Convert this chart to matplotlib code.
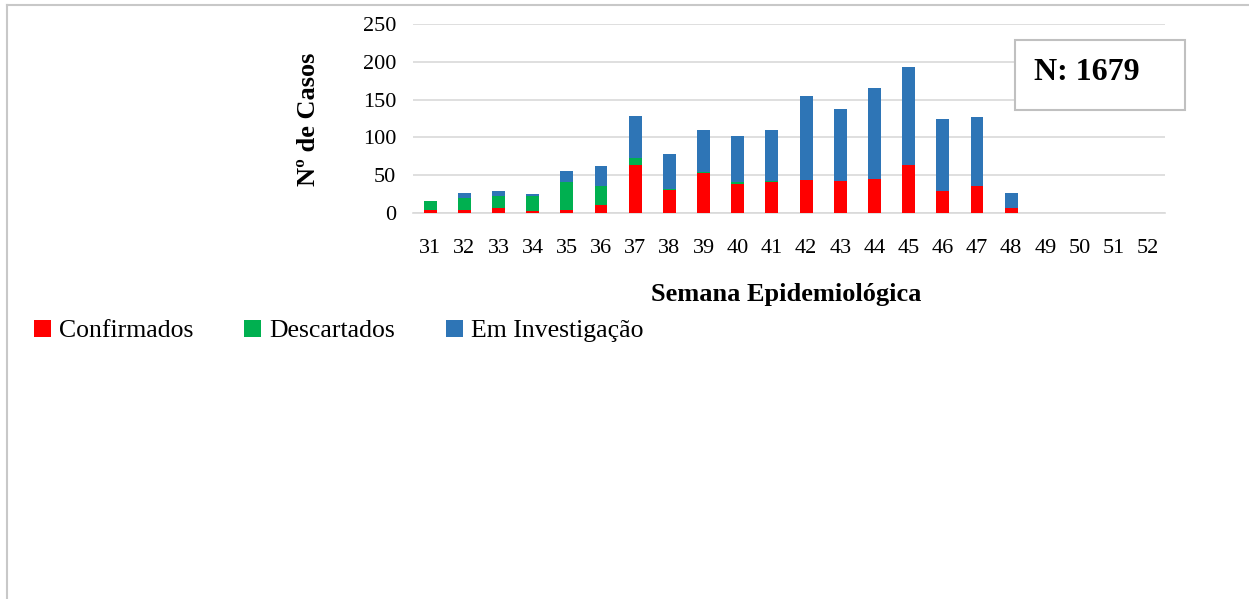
import matplotlib
matplotlib.use("Agg")
import matplotlib.pyplot as plt
from matplotlib.lines import Line2D
import numpy as np

weeks = [str(w) for w in range(31, 53)]
confirmados = [4, 4, 7, 3, 4, 11, 64, 30, 53, 39, 41, 43, 42, 45, 64, 29, 36, 7, 0, 0, 0, 0]
descartados = [12, 16, 16, 20, 37, 25, 9, 2, 1, 2, 1, 1, 0, 0, 0, 0, 0, 0, 0, 0, 0, 0]
investigacao = [0, 7, 6, 2, 14, 26, 55, 46, 56, 61, 68, 111, 96, 120, 129, 95, 91, 20, 0, 0, 0, 0]
yticks = [0, 50, 100, 150, 200, 250]
total_label = "N: 1679"

plt.rcParams["font.family"] = ["Liberation Serif", "DejaVu Serif"]

W, H = 1249, 599
fig = plt.figure(figsize=(W / 100, H / 100), dpi=100)
ax = fig.add_axes([413 / W, 1 - 213 / H, 752 / W, 189 / H])

x = np.arange(len(weeks))
c = np.array(confirmados)
d = np.array(descartados)
i = np.array(investigacao)
bw = 0.38
ax.bar(x, c, bw, color="#ff0000", label="Confirmados", zorder=3)
ax.bar(x, d, bw, bottom=c, color="#00b050", label="Descartados", zorder=3)
ax.bar(x, i, bw, bottom=c + d, color="#2e75b6", label="Em Investigação", zorder=3)

ax.set_xlim(-0.5, len(weeks) - 0.5)
ax.set_ylim(0, 250)
ax.set_yticks(yticks)
ax.set_xticks(x)
ax.set_xticklabels(weeks)
ax.tick_params(axis="both", length=0, labelsize=16)
ax.tick_params(axis="x", pad=19)
ax.tick_params(axis="y", pad=12)
ax.grid(axis="y", color="#d9d9d9", linewidth=1.2, zorder=0)
for s in ["top", "right", "left"]:
    ax.spines[s].set_visible(False)
ax.spines["bottom"].set_color("#d9d9d9")
ax.spines["bottom"].set_linewidth(1.2)

ax.set_ylabel("Nº de Casos", fontsize=19, fontweight="bold")
ax.yaxis.set_label_coords((320 - 413) / 752, 0.495)
fig.text(786 / W, 1 - 295 / H, "Semana Epidemiológica", fontsize=19,
         fontweight="bold", ha="center", va="center")

# N box
box = plt.Rectangle((1015 / W, 1 - 110 / H), 170 / W, 70 / H, transform=fig.transFigure,
                    facecolor="white", edgecolor="#c0c0c0", linewidth=1.5, zorder=4)
fig.patches.append(box)
fig.text(1087 / W, 1 - 73 / H, total_label, fontsize=23, fontweight="bold",
         ha="center", va="center", zorder=5)

handles, labels = ax.get_legend_handles_labels()
fig.legend(handles, labels, loc="center left", bbox_to_anchor=(34 / W, 1 - 331 / H),
           ncol=3, frameon=False, fontsize=18.5, handlelength=0.66, handleheight=0.66,
           handletextpad=0.3, columnspacing=2.0, borderaxespad=0, borderpad=0)

# outer chart border (top and left)
fig.add_artist(Line2D([7 / W, 7 / W], [0, 1 - 5 / H], transform=fig.transFigure,
                      color="#c8c8c8", linewidth=1.5))
fig.add_artist(Line2D([7 / W, 1], [1 - 5 / H, 1 - 5 / H], transform=fig.transFigure,
                      color="#c8c8c8", linewidth=1.5))

fig.savefig("out.png", dpi=100)
